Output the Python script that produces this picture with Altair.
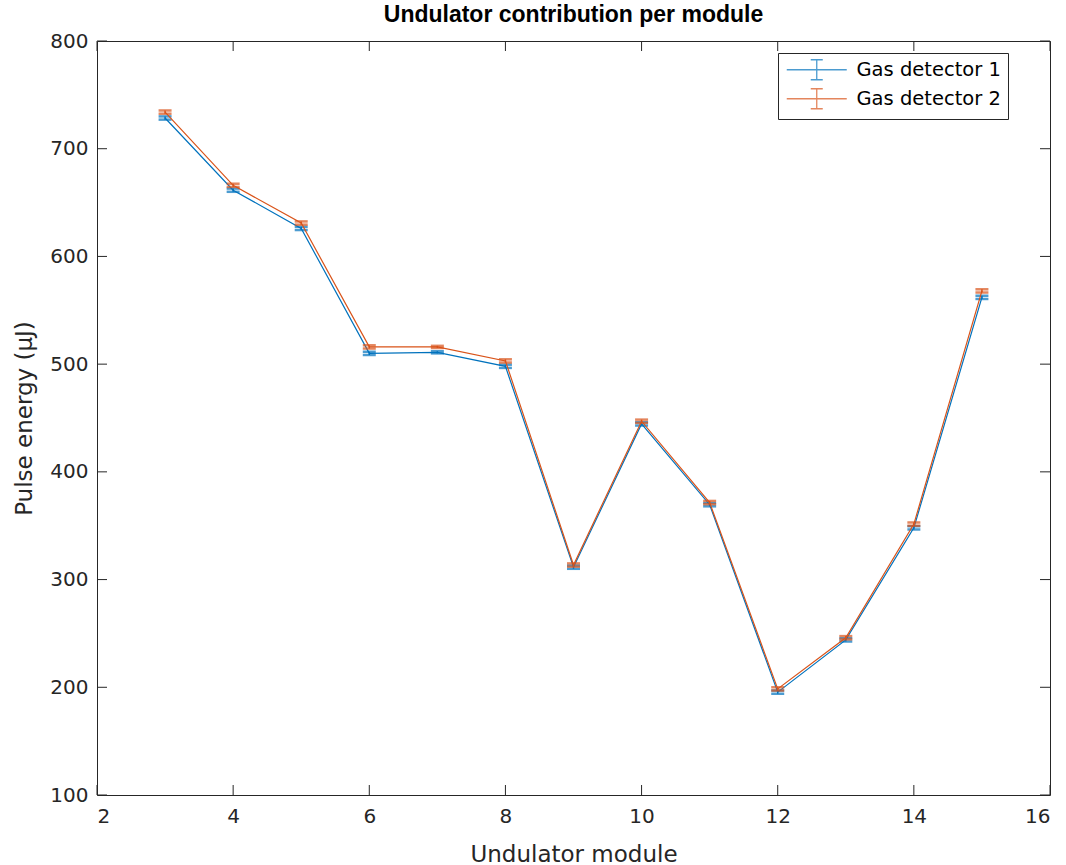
import altair as alt
import pandas as pd

modules = [3, 4, 5, 6, 7, 8, 9, 10, 11, 12, 13, 14, 15]
gd1 = [728.5, 661.5, 626, 510, 511, 498, 311.5, 444.5, 369.5, 195.5, 244, 348, 562]
gd1_err = [1.5, 1.5, 1.5, 1.5, 1.0, 1.5, 1.5, 1.5, 1.5, 1.5, 1.5, 1.5, 1.5]
gd2 = [734, 666, 631, 516, 516, 503, 313.5, 447, 371.5, 198.5, 246, 351.5, 568]
gd2_err = [1.5, 1.5, 1.5, 1.5, 1.0, 1.5, 1.5, 1.5, 1.5, 1.5, 1.5, 1.5, 1.5]
series = ["Gas detector 1", "Gas detector 2"]
colors = ["#0072BD", "#D95319"]
x_ticks = [2, 4, 6, 8, 10, 12, 14, 16]
y_ticks = [100, 200, 300, 400, 500, 600, 700, 800]

W, H = 953, 754
AX = "#262626"
FONT = "DejaVu Sans"

rows = []
for name, vals, errs in [(series[0], gd1, gd1_err), (series[1], gd2, gd2_err)]:
    for m, v, e in zip(modules, vals, errs):
        rows.append({"module": m, "energy": v, "lo": v - e, "hi": v + e, "detector": name})
df = pd.DataFrame(rows)

xs = alt.Scale(domain=[2, 16], nice=False)
ys = alt.Scale(domain=[100, 800], nice=False, zero=False)
cscale = alt.Scale(domain=series, range=colors)

legend_path = "M-6,0L6,0M0,-2L0,2M-1.2,-2L1.2,-2M-1.2,2L1.2,2"

base = alt.Chart(df)

lines = base.mark_line(strokeWidth=1.2).encode(
    x=alt.X("module:Q", scale=xs, axis=alt.Axis(values=x_ticks, format="d", title="Undulator module")),
    y=alt.Y("energy:Q", scale=ys, axis=alt.Axis(values=y_ticks, format="d", title="Pulse energy (μJ)")),
    color=alt.Color("detector:N", scale=cscale, legend=alt.Legend(
        title=None, orient="none", legendX=681, legendY=12,
        strokeColor=AX, fillColor="white", padding=7,
        symbolType=legend_path, symbolSize=100, symbolStrokeWidth=1.3,
        symbolFillColor="transparent", symbolOffset=22, labelOffset=30,
        labelFontSize=19.5, labelFont=FONT, labelColor="black", rowPadding=3,
    )),
)

bars = base.mark_rule(strokeWidth=1.5).encode(
    x=alt.X("module:Q", scale=xs),
    y=alt.Y("lo:Q", scale=ys),
    y2="hi:Q",
    color=alt.Color("detector:N", scale=cscale),
)
caps_lo = base.mark_tick(size=13, thickness=2.5, orient="horizontal").encode(
    x=alt.X("module:Q", scale=xs),
    y=alt.Y("lo:Q", scale=ys),
    color=alt.Color("detector:N", scale=cscale),
)
caps_hi = base.mark_tick(size=13, thickness=2.5, orient="horizontal").encode(
    x=alt.X("module:Q", scale=xs),
    y=alt.Y("hi:Q", scale=ys),
    color=alt.Color("detector:N", scale=cscale),
)

xt = pd.DataFrame({"t": x_ticks})
yt = pd.DataFrame({"t": y_ticks})
TL = 10
tick_b = alt.Chart(xt).mark_rule(color=AX).encode(
    x=alt.X("t:Q", scale=xs), y=alt.value(H), y2=alt.value(H - TL))
tick_t = alt.Chart(xt).mark_rule(color=AX).encode(
    x=alt.X("t:Q", scale=xs), y=alt.value(0), y2=alt.value(TL))
tick_l = alt.Chart(yt).mark_rule(color=AX).encode(
    y=alt.Y("t:Q", scale=ys), x=alt.value(0), x2=alt.value(TL))
tick_r = alt.Chart(yt).mark_rule(color=AX).encode(
    y=alt.Y("t:Q", scale=ys), x=alt.value(W), x2=alt.value(W - TL))

chart = alt.layer(
    tick_b, tick_t, tick_l, tick_r,
    lines.transform_filter(alt.datum.detector == series[0]),
    bars.transform_filter(alt.datum.detector == series[0]),
    caps_lo.transform_filter(alt.datum.detector == series[0]),
    caps_hi.transform_filter(alt.datum.detector == series[0]),
    lines.transform_filter(alt.datum.detector == series[1]),
    bars.transform_filter(alt.datum.detector == series[1]),
    caps_lo.transform_filter(alt.datum.detector == series[1]),
    caps_hi.transform_filter(alt.datum.detector == series[1]),
).properties(
    width=W, height=H,
    title=alt.TitleParams("Undulator contribution per module", font="Liberation Sans",
                          fontSize=23, fontWeight="bold", color="black", offset=4),
    padding={"left": 97, "top": 41, "right": 16, "bottom": 70},
    autosize=alt.AutoSizeParams(type="none"),
).configure_view(
    stroke=AX, strokeWidth=1,
).configure_axis(
    grid=False, ticks=False, domain=False,
    labelFont=FONT, labelFontSize=20, labelColor=AX,
    titleFont=FONT, titleFontSize=23, titleColor=AX, titleFontWeight="normal",
).configure_axisX(
    titlePadding=17, labelPadding=11,
).configure_axisY(
    titlePadding=13, labelPadding=9,
)

chart.save("out.html", embed_options={"renderer": "svg", "actions": False})
